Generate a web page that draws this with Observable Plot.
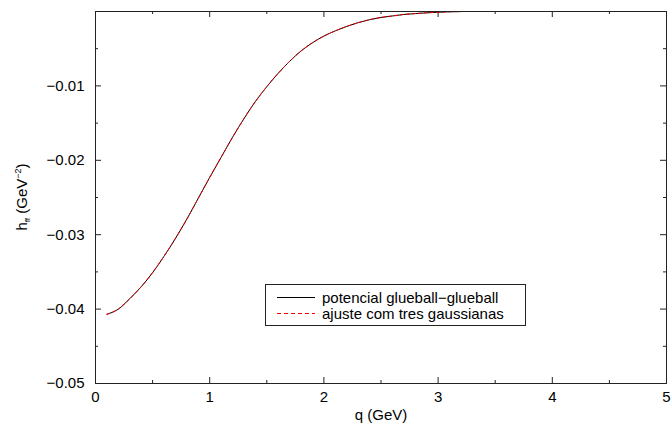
<!DOCTYPE html>
<html>
<head>
<meta charset="utf-8">
<script src="https://cdn.jsdelivr.net/npm/d3@7"></script>
<script src="https://cdn.jsdelivr.net/npm/@observablehq/plot@0.6"></script>
<style>
  html, body { margin: 0; padding: 0; background: #fff; }
  #chart { width: 672px; height: 430px; }
</style>
</head>
<body>
<div id="chart"></div>
<script>
// q (GeV)
const qValues = [0.1,0.2,0.3,0.4,0.5,0.6,0.7,0.8,0.9,1.0,1.1,1.2,1.3,1.4,1.5,1.6,1.7,1.8,1.9,2.0,2.1,2.2,2.3,2.4,2.5,2.6,2.7,2.8,2.9,3.0,3.1,3.2];
// potencial glueball-glueball h_ff (GeV^-2)
const potentialValues = [-0.0407,-0.0400,-0.0386,-0.0370,-0.0351,-0.0329,-0.0305,-0.0279,-0.0251,-0.0223,-0.0196,-0.0169,-0.0144,-0.0121,-0.0101,-0.0083,-0.0067,-0.0053,-0.0042,-0.0033,-0.0026,-0.0020,-0.0015,-0.0011,-0.0008,-0.0006,-0.0004,-0.00028,-0.00018,-0.0001,-0.00004,-0.00001];
// ajuste com tres gaussianas
const fitValues = [-0.0407,-0.0400,-0.0386,-0.0370,-0.0351,-0.0329,-0.0305,-0.0279,-0.0251,-0.0223,-0.0196,-0.0169,-0.0144,-0.0121,-0.0101,-0.0083,-0.0067,-0.0053,-0.0042,-0.0033,-0.0026,-0.0020,-0.0015,-0.0011,-0.0008,-0.0006,-0.0004,-0.00028,-0.00018,-0.0001,-0.00004,-0.00001];

const xMajorTicks = [0,1,2,3,4,5];
const xMinorTicks = [0.5,1.5,2.5,3.5,4.5];
const yMajorTicks = [-0.05,-0.04,-0.03,-0.02,-0.01,0];
const yMinorTicks = [-0.045,-0.035,-0.025,-0.015,-0.005];
const yTickLabels = [-0.05,-0.04,-0.03,-0.02,-0.01];

const seriesNames = ["potencial glueball\u2212glueball", "ajuste com tres gaussianas"];

const potential = qValues.map((q, i) => ({q, h: potentialValues[i]}));
const fit = qValues.map((q, i) => ({q, h: fitValues[i]}));

const W = 672, H = 430, mL = 95, mR = 6, mT = 11, mB = 47;
const iw = W - mL - mR, ih = H - mT - mB;
const major = 6, minor = 3;

const plot = Plot.plot({
  width: W, height: H,
  marginLeft: mL, marginRight: mR, marginTop: mT, marginBottom: mB,
  style: {fontFamily: "'Liberation Sans', Arial, sans-serif", fontSize: "15px", color: "#000", background: "#fff"},
  x: {domain: [0, 5]},
  y: {domain: [-0.05, 0]},
  marks: [
    Plot.ruleX(xMajorTicks, {x: d => d, insetTop: ih - major, stroke: "#222"}),
    Plot.ruleX(xMajorTicks, {x: d => d, insetBottom: ih - major, stroke: "#222"}),
    Plot.ruleX(xMinorTicks, {x: d => d, insetTop: ih - minor, stroke: "#222"}),
    Plot.ruleX(xMinorTicks, {x: d => d, insetBottom: ih - minor, stroke: "#222"}),
    Plot.ruleY(yMajorTicks, {y: d => d, insetRight: iw - major, stroke: "#222"}),
    Plot.ruleY(yMajorTicks, {y: d => d, insetLeft: iw - major, stroke: "#222"}),
    Plot.ruleY(yMinorTicks, {y: d => d, insetRight: iw - minor, stroke: "#222"}),
    Plot.ruleY(yMinorTicks, {y: d => d, insetLeft: iw - minor, stroke: "#222"}),
    Plot.axisX(xMajorTicks, {tickSize: 0, tickPadding: 8, label: null, tickFormat: d => String(d)}),
    Plot.axisY(yTickLabels, {tickSize: 0, tickPadding: 11, label: null, tickFormat: d3.format(".2f")}),
    Plot.text(["q (GeV)"], {frameAnchor: "bottom", dy: 36, fontSize: 15}),
    Plot.line(potential, {x: "q", y: "h", stroke: "#000", strokeWidth: 1, curve: "monotone-x"}),
    Plot.line(fit, {x: "q", y: "h", stroke: "#ff0000", strokeWidth: 1, strokeDasharray: "3,3", curve: "monotone-x"}),
    Plot.frame({stroke: "#222"})
  ]
});

document.getElementById("chart").appendChild(plot);

const svg = d3.select(plot);
const font = "'Liberation Sans', Arial, sans-serif";

// y-axis label
const yl = svg.append("text")
  .attr("transform", `translate(27,${mT + ih / 2}) rotate(-90)`)
  .attr("text-anchor", "middle")
  .attr("font-family", font)
  .attr("font-size", 15)
  .attr("fill", "#000");
yl.append("tspan").text("h");
yl.append("tspan").attr("font-size", 8).attr("dy", 3).text("ff");
yl.append("tspan").attr("dy", -3).text(" (GeV");
yl.append("tspan").attr("font-size", 9).attr("dy", -6).text("\u22122");
yl.append("tspan").attr("dy", 6).text(")");

// legend
const lg = svg.append("g");
lg.append("rect").attr("x", 265.5).attr("y", 284.5).attr("width", 260).attr("height", 41)
  .style("fill", "#fff").style("stroke", "#222").style("stroke-width", 1);
const rows = [{y: 297.5, stroke: "#000", dash: "none"}, {y: 313.5, stroke: "#ff0000", dash: "4,3"}];
rows.forEach((r, i) => {
  lg.append("line").attr("x1", 277).attr("x2", 315).attr("y1", r.y).attr("y2", r.y)
    .style("stroke", r.stroke).style("stroke-width", 1).style("stroke-dasharray", r.dash);
  lg.append("text").attr("x", 322).attr("y", r.y).attr("dy", "0.35em")
    .style("text-anchor", "start")
    .style("font-family", font).style("font-size", "15px").style("fill", "#000")
    .text(seriesNames[i]);
});
</script>
</body>
</html>
